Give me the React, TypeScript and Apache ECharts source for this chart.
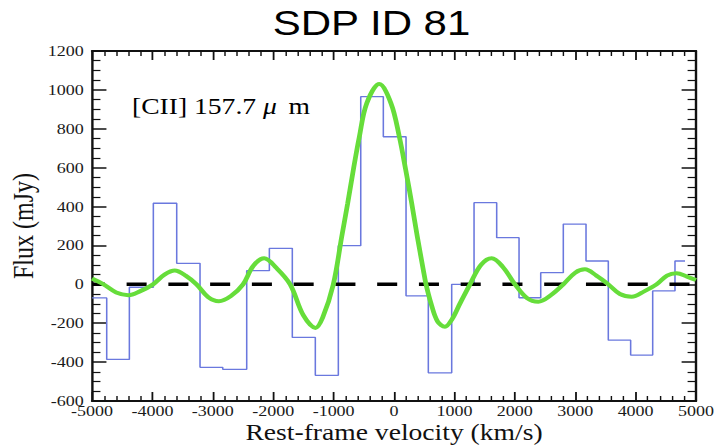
import React, { useEffect, useRef } from "react";
import * as echarts from "echarts";

// Observed spectrum: left edge of each velocity channel (km/s) and its flux (mJy)
const binEdges = [
  -5000, -4757, -4382, -3985, -3598, -3212, -2836, -2439, -2064, -1684, -1303, -922,
  -551, -177, 199, 568, 955, 1325, 1700, 2070, 2429, 2803, 3179, 3548, 3918, 4283, 4652,
];
const binFlux = [
  -70, -386, -15, 417, 108, -427, -437, 70, 185, -273, -468, 199,
  965, 759, -59, -455, 0, 420, 240, -69, 60, 310, 120, -287, -364, -34, 120,
];
const lastBinEnd = 4818;

// Fitted model curve
const fitVelocity = [
  -5000, -4810, -4600, -4400, -4200, -3990, -3800, -3630, -3450, -3270, -3080, -2900,
  -2700, -2500, -2330, -2150, -1950, -1720, -1500, -1300, -1180, -1005, -866, -767,
  -674, -574, -452, -245, -50, 88, 194, 293, 386, 485, 530, 613, 720, 844, 960, 1093,
  1258, 1440, 1617, 1800, 2003, 2200, 2389, 2600, 2803, 3000, 3162, 3350, 3548, 3740,
  3935, 4150, 4349, 4520, 4680, 4850, 5000,
];
const fitFlux = [
  30, 0, -42, -56, -35, 0, 50, 71, 45, 0, -65, -87,
  -60, 0, 95, 134, 85, 0, -160, -224, -170, 0, 245, 417,
  588, 759, 931, 1030, 931, 759, 588, 417, 245, 74, 0, -98, -190, -218, -180, -98,
  0, 100, 134, 90, 0, -70, -89, -55, 0, 60, 77, 45, 0, -50,
  -64, -35, 0, 45, 57, 40, 22,
];

const xMin = -5000;
const xMax = 5000;
const xStep = 1000;
const yMin = -600;
const yMax = 1200;
const yStep = 200;

const titleText = "SDP ID 81";
const lineLabel = "[CII] 157.7 ";
const xName = "Rest-frame velocity (km/s)";
const yName = "Flux (mJy)";

const SERIF = "'Liberation Serif', 'Times New Roman', serif";
const SANS = "'Liberation Sans', Arial, sans-serif";

export default function App() {
  const ref = useRef<HTMLDivElement>(null);

  useEffect(() => {
    if (!ref.current) return;
    const chart = echarts.init(ref.current, null, { renderer: "svg" });

    const stepData = binEdges.map((e, i) => [e, binFlux[i]]);
    stepData.push([lastBinEnd, binFlux[binFlux.length - 1]]);
    const fitData = fitVelocity.map((v, i) => [v, fitFlux[i]]);

    const axisLine = { show: true, onZero: false, lineStyle: { color: "#111", width: 2 } };
    const labelStyle = { fontFamily: SERIF, fontSize: 15, color: "#1a1a1a", lineHeight: 11 };

    const xCommon = {
      type: "value" as const,
      min: xMin,
      max: xMax,
      interval: xStep,
      axisLine,
      splitLine: { show: false },
      axisTick: { show: true, inside: true, length: 9, lineStyle: { color: "#111", width: 1.5 } },
      minorTick: { show: true, splitNumber: 5, length: 5, lineStyle: { color: "#111", width: 1.2 } },
      minorSplitLine: { show: false },
    };
    const yCommon = {
      type: "value" as const,
      min: yMin,
      max: yMax,
      interval: yStep,
      axisLine,
      splitLine: { show: false },
      axisTick: { show: true, inside: true, length: 12, lineStyle: { color: "#111", width: 1.5 } },
      minorTick: { show: true, splitNumber: 4, length: 7, lineStyle: { color: "#111", width: 1.2 } },
      minorSplitLine: { show: false },
    };

    chart.setOption({
      animation: false,
      backgroundColor: "#ffffff",
      grid: { left: 76.7, right: 15, top: 51, bottom: 44, containLabel: false, outerBoundsMode: "none" },
      xAxis: [
        {
          ...xCommon,
          position: "bottom",
          axisLabel: { ...labelStyle, margin: 4.3, formatter: (v: number) => String(v) },
          name: xName,
          nameLocation: "middle",
          nameGap: 21.2,
          nameMoveOverlap: false,
          nameTextStyle: { fontFamily: SERIF, fontSize: 23, color: "#111", lineHeight: 20 },
        },
        { ...xCommon, position: "top", axisLabel: { show: false } },
      ],
      yAxis: [
        {
          ...yCommon,
          position: "left",
          axisLabel: { ...labelStyle, margin: 7, formatter: (v: number) => String(v) },
          name: yName,
          nameLocation: "middle",
          nameGap: 45,
          nameMoveOverlap: false,
          nameTextStyle: { fontFamily: SERIF, fontSize: 24, color: "#111", lineHeight: 24 },
        },
        { ...yCommon, position: "right", axisLabel: { show: false } },
      ],
      graphic: [
        {
          type: "text",
          x: 309.6,
          y: 23,
          style: {
            text: titleText,
            font: `35px ${SANS}`,
            fill: "#000",
            textAlign: "center",
            textVerticalAlign: "middle",
          },
        },
        {
          type: "text",
          x: 110,
          y: 106,
          style: {
            text: `{a|${lineLabel}}{b|μ}{c| m}`,
            textVerticalAlign: "middle",
            rich: {
              a: { fontFamily: SERIF, fontSize: 23, color: "#111" },
              b: { fontFamily: SERIF, fontSize: 23, fontStyle: "italic", color: "#111" },
              c: { fontFamily: SERIF, fontSize: 23, color: "#111", padding: [0, 0, 0, 4] },
            },
          },
        },
      ],
      series: [
        {
          type: "line",
          name: "spectrum",
          data: stepData,
          step: "end",
          symbol: "none",
          lineStyle: { color: "#6a78de", width: 1.3 },
          z: 2,
        },
        {
          type: "line",
          name: "zero",
          data: [
            [xMin, 0],
            [xMax, 0],
          ],
          symbol: "none",
          lineStyle: { color: "#000", width: 3.5, type: [16.7, 18.1], dashOffset: 6.4 },
          z: 3,
        },
        {
          type: "line",
          name: "fit",
          data: fitData,
          smooth: 0.35,
          symbol: "none",
          lineStyle: { color: "#66dd3a", width: 4 },
          z: 4,
        },
      ],
    });

    return () => chart.dispose();
  }, []);

  return (
    <div
      style={{
        position: "absolute",
        left: 0,
        top: 0,
        width: 714,
        height: 445,
        overflow: "hidden",
        background: "#fff",
      }}
    >
      <div
        ref={ref}
        style={{ width: 595, height: 445, transform: "scaleX(1.2)", transformOrigin: "0 0" }}
      />
    </div>
  );
}
